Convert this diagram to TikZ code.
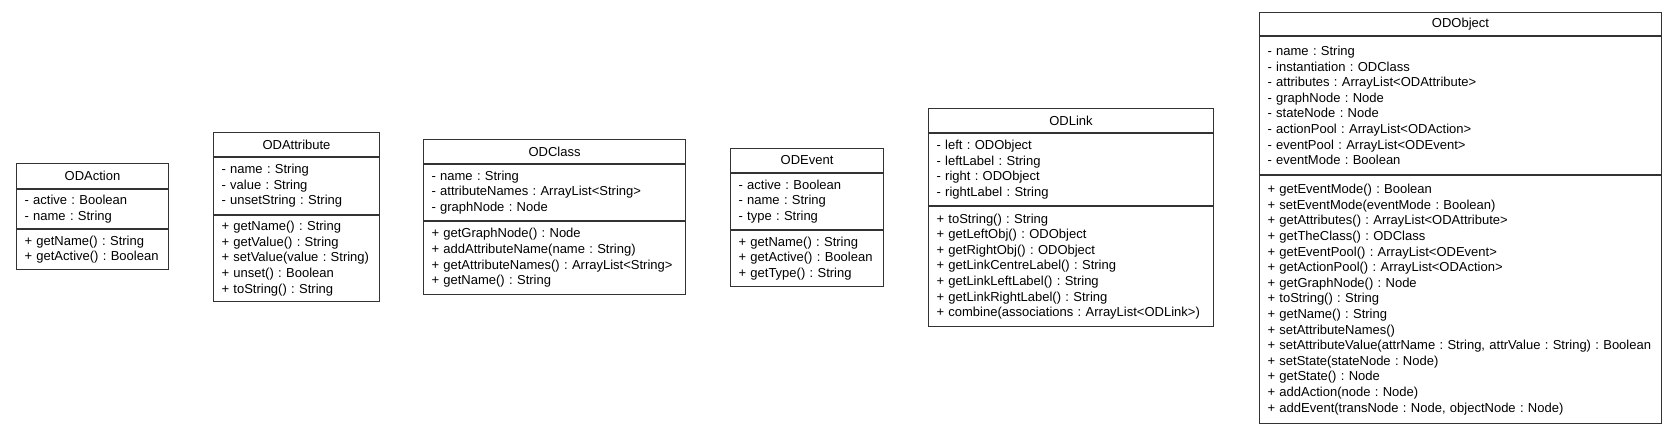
\documentclass[tikz,border=0pt]{standalone}
\usepackage{fontspec}
\setmainfont{Liberation Sans}
\frenchspacing
\usetikzlibrary{positioning}
\tikzstyle{box} = [draw=black!80, line width=1pt, fill=white, inner xsep=8pt, inner ysep=2pt, font=\fontsize{13}{15.6}\selectfont]
\tikzstyle{head} = [box, align=center]
\tikzstyle{body} = [box, align=left]

\begin{document}
\begin{tikzpicture}[x=1pt, y=-1pt]
    \useasboundingbox (0,0) rectangle (1677,432);

    \node (act) [head, anchor=north west, text width=136pt, minimum height=25pt] at (16,163) {ODAction};
    \node (actA) [body, below=0pt of act, text width=136pt, minimum height=39pt] {- active : Boolean\\- name : String};
    \node (actO) [body, below=0pt of actA, text width=136pt, minimum height=40pt] {+ getName() : String\\+ getActive() : Boolean};

    \node (attr) [head, anchor=north west, text width=150pt, minimum height=24pt] at (213,132) {ODAttribute};
    \node (attrA) [body, below=0pt of attr, text width=150pt, minimum height=57pt] {- name : String\\- value : String\\- unsetString : String};
    \node (attrO) [body, below=0pt of attrA, text width=150pt, minimum height=86pt] {+ getName() : String\\+ getValue() : String\\+ setValue(value : String)\\+ unset() : Boolean\\+ toString() : String};

    \node (cls) [head, anchor=north west, text width=246pt, minimum height=24pt] at (423,139) {ODClass};
    \node (clsA) [body, below=0pt of cls, text width=246pt, minimum height=56pt] {- name : String\\- attributeNames : ArrayList<String>\\- graphNode : Node};
    \node (clsO) [body, below=0pt of clsA, text width=246pt, minimum height=73pt] {+ getGraphNode() : Node\\+ addAttributeName(name : String)\\+ getAttributeNames() : ArrayList<String>\\+ getName() : String};

    \node (ev) [head, anchor=north west, text width=137pt, minimum height=24pt] at (730,148) {ODEvent};
    \node (evA) [body, below=0pt of ev, text width=137pt, minimum height=56pt] {- active : Boolean\\- name : String\\- type : String};
    \node (evO) [body, below=0pt of evA, text width=137pt, minimum height=56pt] {+ getName() : String\\+ getActive() : Boolean\\+ getType() : String};

    \node (lnk) [head, anchor=north west, text width=269pt, minimum height=24pt] at (928,108) {ODLink};
    \node (lnkA) [body, below=0pt of lnk, text width=269pt, minimum height=72pt] {- left : ODObject\\- leftLabel : String\\- right : ODObject\\- rightLabel : String};
    \node (lnkO) [body, below=0pt of lnkA, text width=269pt, minimum height=120pt] {+ toString() : String\\+ getLeftObj() : ODObject\\+ getRightObj() : ODObject\\+ getLinkCentreLabel() : String\\+ getLinkLeftLabel() : String\\+ getLinkRightLabel() : String\\+ combine(associations : ArrayList<ODLink>)};

    \node (obj) [head, anchor=north west, text width=386pt, minimum height=23pt] at (1259,12) {ODObject};
    \node (objA) [body, below=0pt of obj, text width=386pt, minimum height=138pt] {- name : String\\- instantiation : ODClass\\- attributes : ArrayList<ODAttribute>\\- graphNode : Node\\- stateNode : Node\\- actionPool : ArrayList<ODAction>\\- eventPool : ArrayList<ODEvent>\\- eventMode : Boolean};
    \node (objO) [body, below=0pt of objA, text width=386pt, minimum height=248pt] {+ getEventMode() : Boolean\\+ setEventMode(eventMode : Boolean)\\+ getAttributes() : ArrayList<ODAttribute>\\+ getTheClass() : ODClass\\+ getEventPool() : ArrayList<ODEvent>\\+ getActionPool() : ArrayList<ODAction>\\+ getGraphNode() : Node\\+ toString() : String\\+ getName() : String\\+ setAttributeNames()\\+ setAttributeValue(attrName : String, attrValue : String) : Boolean\\+ setState(stateNode : Node)\\+ getState() : Node\\+ addAction(node : Node)\\+ addEvent(transNode : Node, objectNode : Node)};

  \end{tikzpicture}
\end{document}
